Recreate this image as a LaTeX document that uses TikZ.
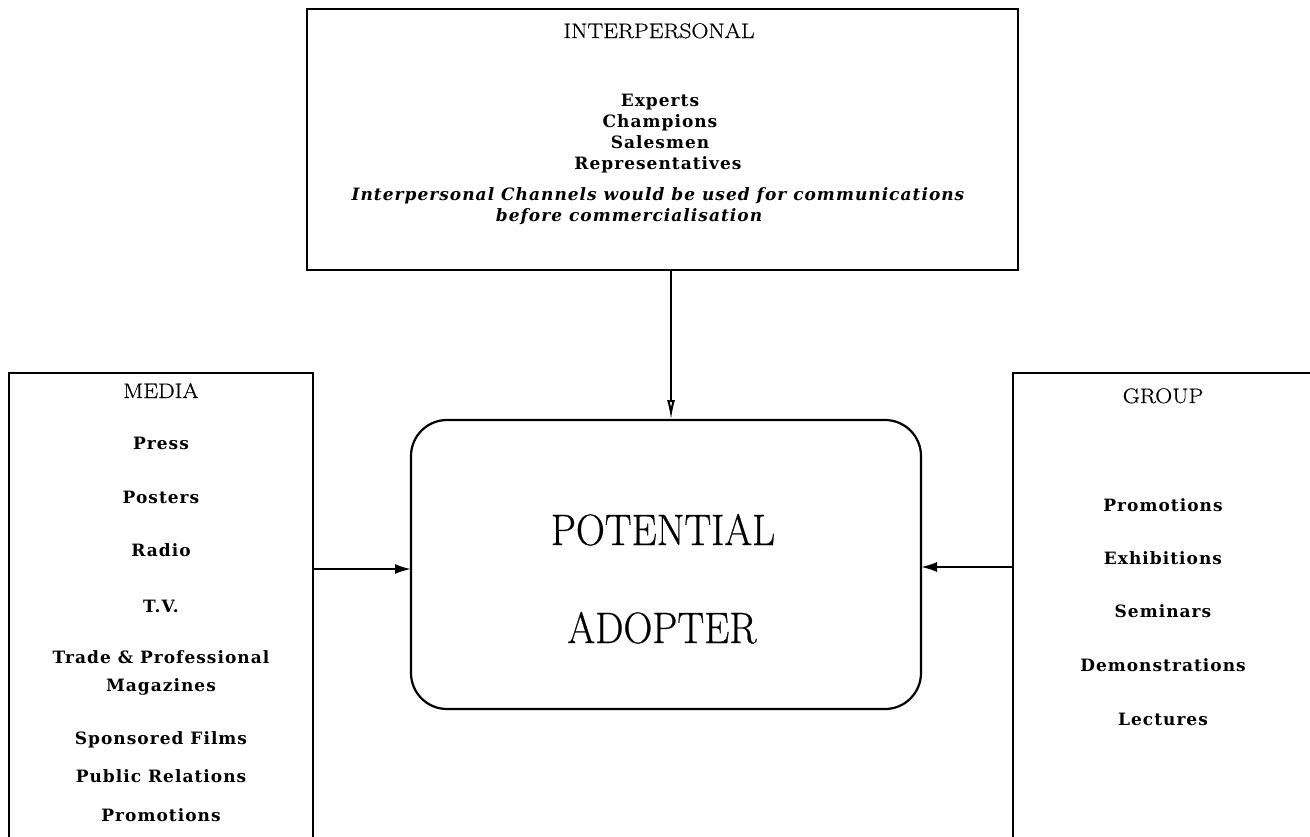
\documentclass[tikz,border=0pt]{standalone}
\usepackage{fontspec}
\usepackage{graphicx}
\usetikzlibrary{arrows.meta}
\newfontfamily\slab[LetterSpace=6]{DejaVu Serif}
\newfontfamily\titlefont[FakeBold=0.6]{Latin Modern Roman}

\newcommand{\headtext}[1]{\scalebox{1.12}[1]{#1}}
\newcommand{\bigtext}[1]{\scalebox{0.91}[1]{#1}}

\begin{document}
\begin{tikzpicture}[x=1pt,y=-1pt,
  frame/.style={draw, line width=2.6pt, inner sep=0pt, outer sep=0pt, anchor=north west},
  head/.style={font=\titlefont\fontsize{21}{25}\selectfont, anchor=base},
  item/.style={font=\slab\bfseries\fontsize{17}{20}\selectfont, anchor=base},
  note/.style={font=\slab\bfseries\itshape\fontsize{17}{20}\selectfont, anchor=base},
  big/.style={font=\titlefont\fontsize{44}{50}\selectfont, anchor=base},
  link/.style={line width=2pt}
]
\useasboundingbox (0,0) rectangle (1310,836);
\clip (0,0) rectangle (1310,836);

% frames
\node[frame, minimum width=711pt, minimum height=261pt] (inter) at (307,9) {};
\node[frame, minimum width=304pt, minimum height=520pt] (media) at (9,373) {};
\node[frame, minimum width=420pt, minimum height=520pt] (group) at (1013,373) {};
\node[draw, line width=2.2pt, rounded corners=36pt, inner sep=0pt, outer sep=0pt,
      minimum width=510pt, minimum height=289pt, anchor=north west] (adopter) at (411,420) {};

% interpersonal channels
\node[head] (interT) at (659,38) {\headtext{INTERPERSONAL}};
\node[item] (i1) at (660,106) {Experts};
\node[item] (i2) at (660,127) {Champions};
\node[item] (i3) at (660,148) {Salesmen};
\node[item] (i4) at (658,169) {Representatives};
\node[note] (n1) at (658,200) {Interpersonal Channels would be used for communications};
\node[note] (n2) at (629,221) {before commercialisation};

% media channels
\node[head] (mediaT) at (161,398) {\headtext{MEDIA}};
\node[item] (m1) at (161,449) {Press};
\node[item] (m2) at (161,503) {Posters};
\node[item] (m3) at (161,556) {Radio};
\node[item] (m4) at (161,612) {T.V.};
\node[item] (m5) at (161,663) {Trade \& Professional};
\node[item] (m6) at (161,691) {Magazines};
\node[item] (m7) at (161,744) {Sponsored Films};
\node[item] (m8) at (161,782) {Public Relations};
\node[item] (m9) at (161,821) {Promotions};

% group channels
\node[head] (groupT) at (1163,403) {\headtext{GROUP}};
\node[item] (g1) at (1163,511) {Promotions};
\node[item] (g2) at (1163,564) {Exhibitions};
\node[item] (g3) at (1163,617) {Seminars};
\node[item] (g4) at (1163,671) {Demonstrations};
\node[item] (g5) at (1163,725) {Lectures};

% receiver
\node[big] (pot) at (663,545) {\bigtext{POTENTIAL}};
\node[big] (ado) at (662,643) {\bigtext{ADOPTER}};

% connectors
\coordinate (tx) at (671,0);
\coordinate (ly) at (0,569);
\coordinate (ry) at (0,567);
\draw[link, -{Latex[open, length=20pt, width=8pt]}] (inter.south -| tx) -- (adopter.north -| tx);
\draw[link, -{Latex[length=16pt, width=10pt]}] (media.east |- ly) -- (adopter.west |- ly);
\draw[link, -{Latex[length=16pt, width=10pt]}] (group.west |- ry) -- (adopter.east |- ry);
\end{tikzpicture}
\end{document}
